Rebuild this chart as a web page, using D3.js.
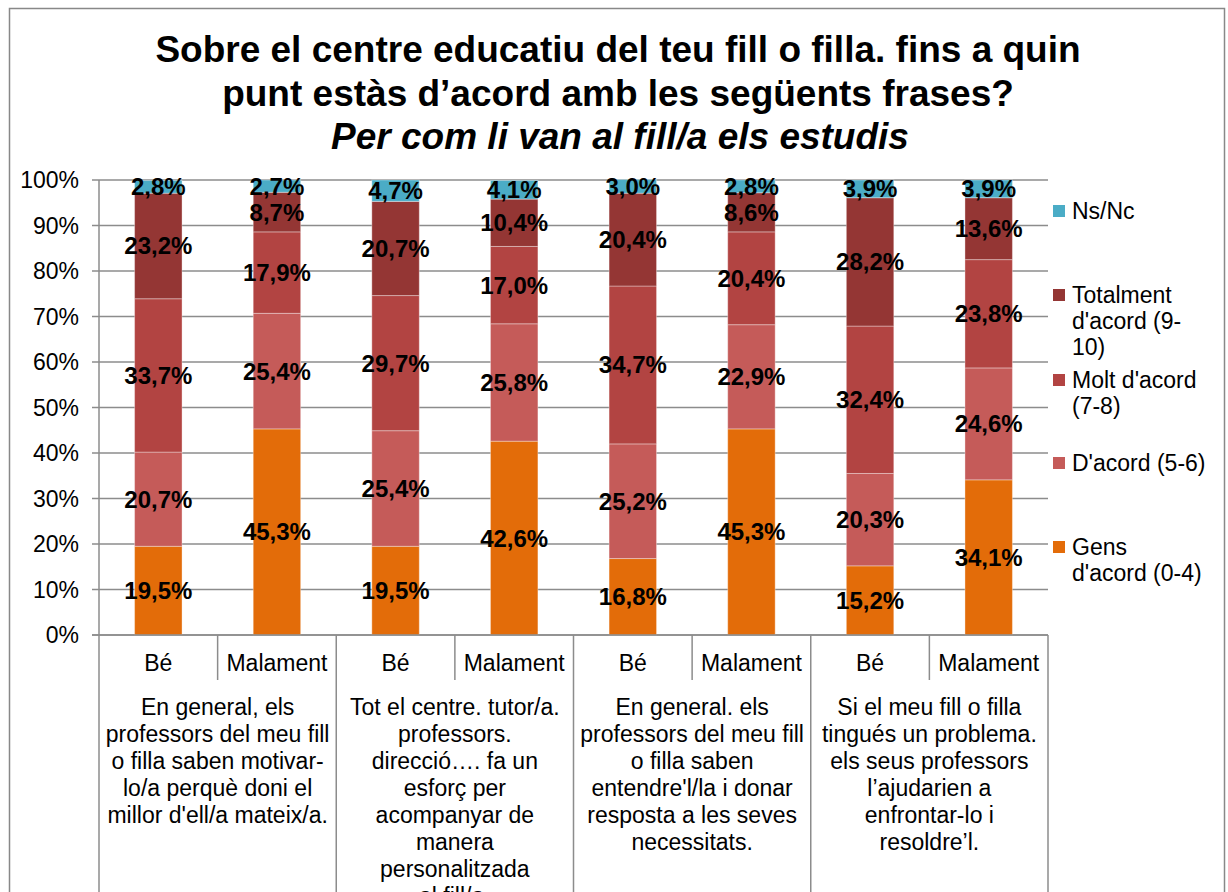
<!DOCTYPE html>
<head>
<meta charset="utf-8">
<style>
body { margin: 0; background: #fff; }
svg { display: block; font-family: Arial, "Liberation Sans", sans-serif; }
.grid line { stroke: #8c8c8c; stroke-width: 1.5px; }
.axisline { stroke: #8c8c8c; stroke-width: 1.5px; }
</style>
</head>
<body>
<svg width="1228" height="892"></svg>
<script src="https://cdnjs.cloudflare.com/ajax/libs/d3/7.8.5/d3.min.js"></script>
<script>
// bars: answer per statement
var categories = ["Bé", "Malament", "Bé", "Malament", "Bé", "Malament", "Bé", "Malament"];
var groupLabels = [
  ["En general, els", "professors del meu fill", "o filla saben motivar-", "lo/a perquè doni el", "millor d'ell/a mateix/a."],
  ["Tot el centre. tutor/a.", "professors.", "direcció…. fa un", "esforç per", "acompanyar de", "manera", "personalitzada", "al fill/a."],
  ["En general. els", "professors del meu fill", "o filla saben", "entendre'l/la i donar", "resposta a les seves", "necessitats."],
  ["Si el meu fill o filla", "tingués un problema.", "els seus professors", "l’ajudarien a", "enfrontar-lo i", "resoldre’l."]
];

// series values (%)
var gens      = [19.5, 45.3, 19.5, 42.6, 16.8, 45.3, 15.2, 34.1];
var dacord    = [20.7, 25.4, 25.4, 25.8, 25.2, 22.9, 20.3, 24.6];
var molt      = [33.7, 17.9, 29.7, 17.0, 34.7, 20.4, 32.4, 23.8];
var totalment = [23.2,  8.7, 20.7, 10.4, 20.4,  8.6, 28.2, 13.6];
var nsnc      = [ 2.8,  2.7,  4.7,  4.1,  3.0,  2.8,  3.9,  3.9];

var seriesKeys = ["gens", "dacord", "molt", "totalment", "nsnc"];
var seriesColors = ["#e36c09", "#c55b59", "#b24442", "#943634", "#4bacc6"];
var legendLabels = [
  ["Ns/Nc"],
  ["Totalment", "d'acord (9-", "10)"],
  ["Molt d'acord", "(7-8)"],
  ["D'acord (5-6)"],
  ["Gens", "d'acord (0-4)"]
];
var legendY = [211, 295, 380, 463, 547];
var yTicks = [0, 10, 20, 30, 40, 50, 60, 70, 80, 90, 100];

var rows = categories.map(function(c, i) {
  return { i: i, cat: c, gens: gens[i], dacord: dacord[i], molt: molt[i], totalment: totalment[i], nsnc: nsnc[i] };
});

var svg = d3.select("svg");
var plotLeft = 99, plotRight = 1048, plotTop = 180, plotBottom = 635;
var fs = 23;

//outer frame
svg.append("rect")
  .attr("x", 9.5).attr("y", 8.5)
  .attr("width", 1215).attr("height", 1000)
  .attr("fill", "none").attr("stroke", "#888").attr("stroke-width", 1.5);

// title
var title = svg.append("text")
  .attr("text-anchor", "middle")
  .attr("font-weight", "bold")
  .attr("font-size", 37)
  .attr("fill", "#000");
title.append("tspan").attr("x", 618).attr("y", 62).text("Sobre el centre educatiu del teu fill o filla. fins a quin");
title.append("tspan").attr("x", 618).attr("y", 106).text("punt estàs d’acord amb les següents frases?");
title.append("tspan").attr("x", 620).attr("y", 149).attr("font-style", "italic").text("Per com li van al fill/a els estudis");

var x = d3.scaleBand()
  .domain(d3.range(categories.length))
  .range([plotLeft, plotRight])
  .paddingInner(0.6)
  .paddingOuter(0.3);

var y = d3.scaleLinear().domain([0, 100]).range([plotBottom, plotTop]);

// gridlines + ticks
svg.append("g")
  .attr("class", "grid")
  .selectAll("line")
  .data(yTicks)
  .enter().append("line")
  .attr("x1", plotLeft - 7).attr("x2", plotRight)
  .attr("y1", function(d) { return y(d); })
  .attr("y2", function(d) { return y(d); });

svg.append("g")
  .selectAll("text")
  .data(yTicks)
  .enter().append("text")
  .attr("x", 79)
  .attr("y", function(d) { return y(d) + 8; })
  .attr("text-anchor", "end")
  .attr("font-size", fs)
  .text(function(d) { return d + "%"; });

// stacked bars
var stacked = d3.stack().keys(seriesKeys)(rows);

var layers = svg.append("g")
  .selectAll("g")
  .data(stacked)
  .enter().append("g")
  .attr("fill", function(d, i) { return seriesColors[i]; });

layers.selectAll("rect")
  .data(function(d) { return d; })
  .enter().append("rect")
  .attr("x", function(d) { return x(d.data.i); })
  .attr("width", x.bandwidth())
  .attr("y", function(d) { return y(d[1]); })
  .attr("height", function(d) { return y(d[0]) - y(d[1]); })
  .attr("stroke", "rgba(255,255,255,0.35)")
  .attr("stroke-width", 1);

// value labels
svg.append("g")
  .selectAll("g")
  .data(stacked)
  .enter().append("g")
  .selectAll("text")
  .data(function(d) { return d; })
  .enter().append("text")
  .attr("x", function(d) { return x(d.data.i) + x.bandwidth() / 2; })
  .attr("y", function(d) { return (y(d[0]) + y(d[1])) / 2 + 8.5; })
  .attr("text-anchor", "middle")
  .attr("font-weight", "bold")
  .attr("font-size", 24)
  .text(function(d) { return d3.format(".1f")(d[1] - d[0]).replace(".", ",") + "%"; });

// category axis (two levels)
var ax = svg.append("g");
ax.append("line").attr("class", "axisline")
  .attr("x1", plotLeft - 7).attr("x2", plotRight).attr("y1", plotBottom).attr("y2", plotBottom);
d3.range(categories.length + 1).forEach(function(k) {
  var xx = plotLeft + k * (plotRight - plotLeft) / categories.length;
  ax.append("line").attr("class", "axisline")
    .attr("x1", xx).attr("x2", xx)
    .attr("y1", k === 0 ? plotTop : plotBottom)
    .attr("y2", k % 2 === 0 ? 900 : 680);
});

ax.selectAll("text.cat")
  .data(categories)
  .enter().append("text")
  .attr("class", "cat")
  .attr("x", function(d, i) { return plotLeft + (i + 0.5) * (plotRight - plotLeft) / categories.length; })
  .attr("y", 671)
  .attr("text-anchor", "middle")
  .attr("font-size", fs)
  .text(function(d) { return d; });

var gw = (plotRight - plotLeft) / groupLabels.length;
var groups = ax.selectAll("text.grp")
  .data(groupLabels)
  .enter().append("text")
  .attr("class", "grp")
  .attr("text-anchor", "middle")
  .attr("font-size", fs);
groups.selectAll("tspan")
  .data(function(d, gi) { return d.map(function(t) { return { t: t, gi: gi }; }); })
  .enter().append("tspan")
  .attr("x", function(d) { return plotLeft + (d.gi + 0.5) * gw; })
  .attr("y", function(d, i) { return 715 + i * 27; })
  .text(function(d) { return d.t; });

// legend
var leg = svg.append("g")
  .selectAll("g")
  .data(legendLabels)
  .enter().append("g");
leg.append("rect")
  .attr("x", 1053).attr("y", function(d, i) { return legendY[i] - 6; })
  .attr("width", 12).attr("height", 12)
  .attr("fill", function(d, i) { return seriesColors[seriesColors.length - 1 - i]; });
leg.append("text")
  .attr("font-size", fs)
  .selectAll("tspan")
  .data(function(d, i) { return d.map(function(t) { return { t: t, i: i }; }); })
  .enter().append("tspan")
  .attr("x", 1072)
  .attr("y", function(d, j) { return legendY[d.i] + 8 + j * 26; })
  .text(function(d) { return d.t; });
</script>
</body>
</html>
